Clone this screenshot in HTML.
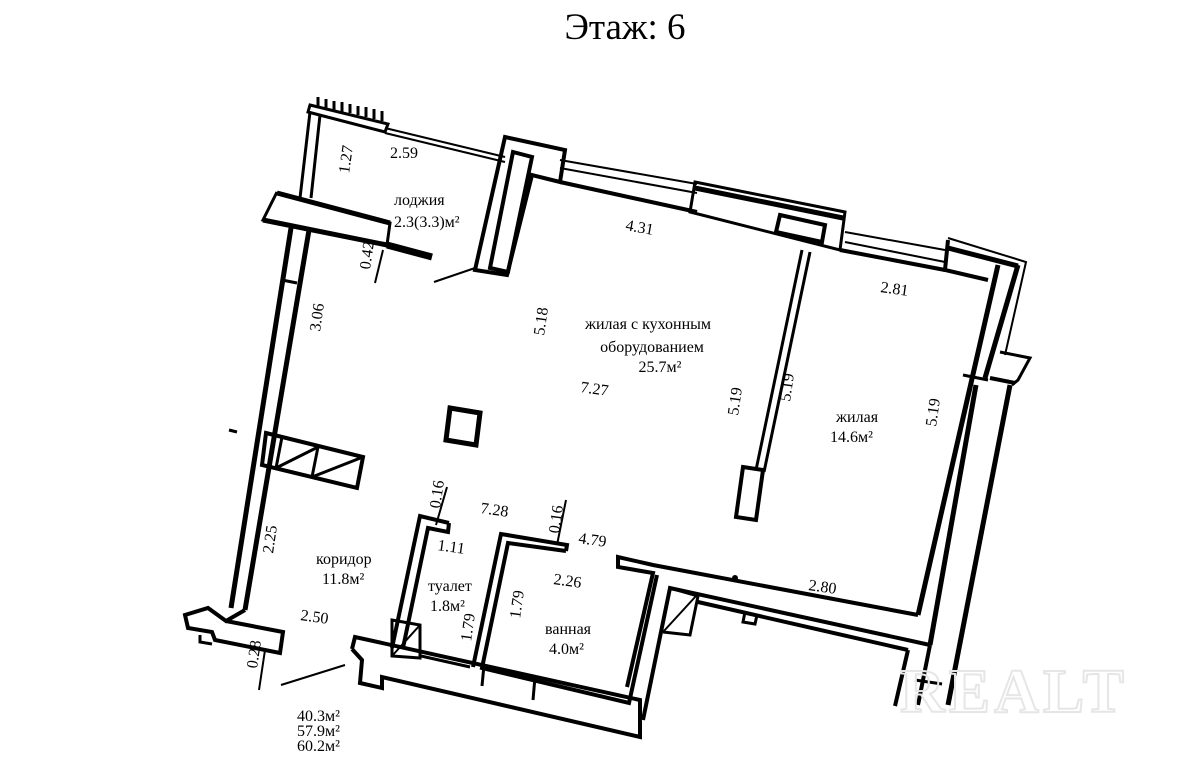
<!DOCTYPE html>
<html><head><meta charset="utf-8"><style>
html,body{margin:0;padding:0;background:#fff;}
svg{display:block}
text{font-family:"Liberation Serif",serif;fill:#000}
</style></head><body>
<svg width="1198" height="777" viewBox="0 0 1198 777" xmlns="http://www.w3.org/2000/svg">
<text x="625" y="39" font-size="37" text-anchor="middle">Этаж: 6</text>
<g fill="none" stroke="#000" stroke-width="4" stroke-linejoin="miter">
<polygon points="310,105 388,124 385,132 308,112" stroke-width="3"/>
<g stroke-width="3">
<line x1="318" y1="97" x2="318" y2="106"/><line x1="326" y1="99" x2="326" y2="108"/><line x1="334" y1="101" x2="334" y2="110"/><line x1="342" y1="102" x2="342" y2="112"/><line x1="350" y1="104" x2="350" y2="113"/><line x1="358" y1="106" x2="358" y2="115"/><line x1="366" y1="107" x2="366" y2="117"/><line x1="374" y1="109" x2="374" y2="119"/><line x1="382" y1="111" x2="382" y2="121"/>
</g>
<line x1="310" y1="112" x2="300" y2="198" stroke-width="3"/>
<line x1="320" y1="115" x2="311" y2="198" stroke-width="3"/>
<line x1="385" y1="128" x2="505" y2="157" stroke-width="2"/>
<line x1="385" y1="133" x2="505" y2="162" stroke-width="2"/>
<polyline points="277,192 263,220 387,245 390,223 277,193" stroke-width="3"/>
<line x1="277" y1="193" x2="390" y2="223" stroke-width="5"/>
<line x1="263" y1="220" x2="387" y2="245" stroke-width="5"/>
<line x1="387" y1="245" x2="432" y2="257" stroke-width="7"/>
<line x1="383" y1="250" x2="375" y2="283" stroke-width="2"/>
<line x1="291" y1="228" x2="231" y2="608" stroke-width="5"/>
<line x1="309" y1="230" x2="245" y2="610" stroke-width="5"/>
<line x1="282" y1="280" x2="297" y2="283" stroke-width="3"/>
<line x1="229" y1="430" x2="237" y2="432" stroke-width="3"/>
<polyline points="226,621 283,632 280,653 215,640 212,632 188,628 185,615 208,608 226,621 245,610" stroke-width="4"/>
<polyline points="200,635 200,642 212,644" stroke-width="3"/>
<line x1="265" y1="650" x2="259" y2="690" stroke-width="2"/>
<line x1="281" y1="685" x2="345" y2="665" stroke-width="2"/>
<polygon points="505,137 565,150 560,182 532,175 507,275 475,270" stroke-width="4"/>
<polygon points="513,152 532,157 508,272 490,268" stroke-width="4"/>
<line x1="434" y1="282" x2="475" y2="268" stroke-width="2"/>
<line x1="560" y1="160" x2="697" y2="184" stroke-width="2"/>
<line x1="560" y1="168" x2="697" y2="193" stroke-width="2"/>
<line x1="560" y1="182" x2="697" y2="212" stroke-width="4"/>
<polygon points="695,182 845,212 840,250 690,212" stroke-width="3"/>
<line x1="695" y1="188" x2="843" y2="218" stroke-width="5"/>
<polygon points="780,215 825,225 822,242 776,232" stroke-width="4"/>
<line x1="845" y1="232" x2="945" y2="250" stroke-width="2"/>
<line x1="845" y1="242" x2="945" y2="262" stroke-width="2"/>
<line x1="840" y1="250" x2="945" y2="270" stroke-width="4"/>
<polyline points="948,238 1026,262 1005,355" stroke-width="2"/>
<polyline points="948,240 945,270 988,280" stroke-width="4"/>
<line x1="948" y1="248" x2="1018" y2="266" stroke-width="5"/>
<line x1="998" y1="265" x2="918" y2="615" stroke-width="5"/>
<line x1="1018" y1="265" x2="985" y2="378" stroke-width="5"/>
<polyline points="1000,352 1030,358 1018,380 1012,385" stroke-width="3"/>
<line x1="990" y1="378" x2="1015" y2="383" stroke-width="4"/>
<line x1="963" y1="375" x2="988" y2="380" stroke-width="3"/>
<line x1="976" y1="385" x2="930" y2="645" stroke-width="5"/>
<line x1="1010" y1="385" x2="948" y2="705" stroke-width="5"/>
<line x1="915" y1="680" x2="942" y2="684" stroke-width="3"/>
<line x1="908" y1="650" x2="895" y2="706" stroke-width="4"/>
<line x1="930" y1="645" x2="918" y2="705" stroke-width="4"/>
<line x1="802" y1="250" x2="756" y2="470" stroke-width="3"/>
<line x1="810" y1="252" x2="764" y2="472" stroke-width="3"/>
<polygon points="743,467 763,470 756,520 736,517" stroke-width="4"/>
<polygon points="450,408 480,413 476,445 446,440" stroke-width="5"/>
<polygon points="266,433 363,457 357,488 262,465" stroke-width="4"/>
<line x1="282" y1="437" x2="276" y2="468" stroke-width="3"/>
<line x1="318" y1="447" x2="312" y2="477" stroke-width="3"/>
<line x1="276" y1="468" x2="318" y2="447" stroke-width="3"/>
<line x1="312" y1="477" x2="363" y2="457" stroke-width="3"/>
<polyline points="918,615 653,565 618,557 618,567 653,573 627,687" stroke-width="4"/>
<polyline points="643,720 670,588 930,645" stroke-width="4"/>
<line x1="698" y1="602" x2="908" y2="650" stroke-width="4"/>
<polyline points="670,588 698,596 690,635 663,632" stroke-width="3"/>
<line x1="663" y1="632" x2="696" y2="596" stroke-width="2"/>
<polyline points="745,612 743,622 755,624 757,615" stroke-width="3"/>
<circle cx="735" cy="578" r="3" fill="#000" stroke="none"/>
<polyline points="449,523 420,516 392,648" stroke-width="4"/>
<polyline points="449,523 448,532 428,528 403,648" stroke-width="4"/>
<polygon points="392,620 420,625 420,658 392,656" stroke-width="3"/>
<line x1="392" y1="656" x2="420" y2="625" stroke-width="2"/>
<polyline points="566,551 567,545 501,534 473,667" stroke-width="4"/>
<polyline points="566,551 508,543 482,668 629,703 657,575" stroke-width="4"/>
<line x1="421" y1="656" x2="470" y2="667" stroke-width="3"/>
<polyline points="352,649 355,637 640,700 640,737 382,677 382,688 360,683 362,660 352,649" stroke-width="4"/>
<line x1="484" y1="665" x2="482" y2="686" stroke-width="3"/>
<line x1="535" y1="677" x2="533" y2="700" stroke-width="3"/>
<line x1="447" y1="487" x2="436" y2="525" stroke-width="2"/>
<line x1="566" y1="500" x2="557" y2="545" stroke-width="2"/>
</g>
<g font-size="16">
<text transform="translate(351,160) rotate(-82)" text-anchor="middle">1.27</text>
<text x="390" y="158">2.59</text>
<text x="394" y="205">лоджия</text>
<text x="394" y="227">2.3(3.3)м²</text>
<text x="625" y="230" transform="rotate(10 625 230)">4.31</text>
<text transform="translate(372,256) rotate(-82)" text-anchor="middle">0.42</text>
<text transform="translate(322,318) rotate(-82)" text-anchor="middle">3.06</text>
<text transform="translate(546,322) rotate(-82)" text-anchor="middle">5.18</text>
<text x="648" y="329" text-anchor="middle">жилая с кухонным</text>
<text x="652" y="352" text-anchor="middle">оборудованием</text>
<text x="660" y="372" text-anchor="middle">25.7м²</text>
<text x="580" y="392" transform="rotate(8 580 392)">7.27</text>
<text x="880" y="292" transform="rotate(8 880 292)">2.81</text>
<text transform="translate(740,402) rotate(-82)" text-anchor="middle">5.19</text>
<text transform="translate(792,388) rotate(-82)" text-anchor="middle">5.19</text>
<text x="836" y="422">жилая</text>
<text x="830" y="442">14.6м²</text>
<text transform="translate(938,413) rotate(-82)" text-anchor="middle">5.19</text>
<text transform="translate(442,495) rotate(-82)" text-anchor="middle">0.16</text>
<text x="480" y="513" transform="rotate(8 480 513)">7.28</text>
<text transform="translate(561,520) rotate(-82)" text-anchor="middle">0.16</text>
<text x="578" y="543" transform="rotate(8 578 543)">4.79</text>
<text x="437" y="550" transform="rotate(8 437 550)">1.11</text>
<text transform="translate(275,540) rotate(-82)" text-anchor="middle">2.25</text>
<text x="316" y="564">коридор</text>
<text x="322" y="584">11.8м²</text>
<text x="428" y="591">туалет</text>
<text x="430" y="611">1.8м²</text>
<text x="553" y="584" transform="rotate(8 553 584)">2.26</text>
<text transform="translate(522,605) rotate(-82)" text-anchor="middle">1.79</text>
<text transform="translate(473,628) rotate(-82)" text-anchor="middle">1.79</text>
<text x="300" y="620" transform="rotate(8 300 620)">2.50</text>
<text x="545" y="634">ванная</text>
<text x="549" y="654">4.0м²</text>
<text x="808" y="590" transform="rotate(8 808 590)">2.80</text>
<text transform="translate(259,655) rotate(-82)" text-anchor="middle">0.28</text>
<text x="297" y="721">40.3м²</text>
<text x="297" y="736">57.9м²</text>
<text x="297" y="751">60.2м²</text>
</g>
<text x="900" y="712" font-family="Liberation Sans,sans-serif" font-size="62" font-weight="bold" stroke="#e6e6e6" stroke-width="2" letter-spacing="4" style="fill:none">REALT</text>
</svg>
</body></html>
